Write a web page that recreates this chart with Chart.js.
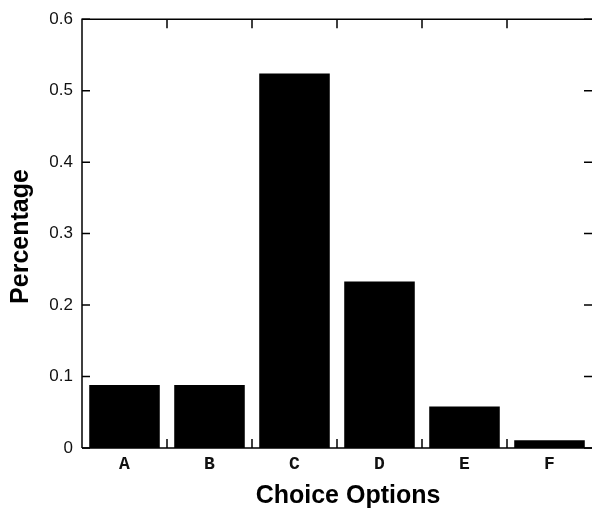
<!DOCTYPE html>
<html>
<head>
<meta charset="utf-8">
<script src="https://cdn.jsdelivr.net/npm/chart.js@4"></script>
<style>
  html, body { margin: 0; padding: 0; background: #fff; overflow: hidden; }
  #wrap { width: 592px; height: 509px; position: relative; }
</style>
</head>
<body>
<div id="wrap"><canvas id="chart"></canvas></div>
<script>
// 데이터
const categories = ['A', 'B', 'C', 'D', 'E', 'F'];
const percentages = [0.088, 0.088, 0.524, 0.233, 0.058, 0.011];
const yTickValues = [0, 0.1, 0.2, 0.3, 0.4, 0.5, 0.6];
const yTickLabels = ['0', '0.1', '0.2', '0.3', '0.4', '0.5', '0.6'];
const xTitle = 'Choice Options';
const yTitle = 'Percentage';

// 테두리, 안쪽 눈금, 축 제목
const framePlugin = {
    id: 'frame',
    afterDatasetsDraw(chart) {
        const { ctx, chartArea: a, scales } = chart;
        const x = scales.x, y = scales.y;
        ctx.save();
        ctx.strokeStyle = '#000';
        ctx.lineWidth = 1.5;

        ctx.beginPath();
        ctx.moveTo(a.left, a.bottom);
        ctx.lineTo(a.left, a.top);
        ctx.lineTo(a.right, a.top);
        ctx.moveTo(a.left, a.bottom);
        ctx.lineTo(a.right, a.bottom);
        ctx.stroke();

        // y 눈금 (좌/우)
        ctx.beginPath();
        yTickValues.forEach(v => {
            const py = y.getPixelForValue(v);
            ctx.moveTo(a.left, py);
            ctx.lineTo(a.left + 8, py);
            ctx.moveTo(a.right, py);
            ctx.lineTo(a.right - 8, py);
        });
        // 범주 경계 눈금 (위/아래)
        for (let i = 0; i < categories.length - 1; i++) {
            const px = (x.getPixelForValue(i) + x.getPixelForValue(i + 1)) / 2;
            ctx.moveTo(px, a.top);
            ctx.lineTo(px, a.top + 9);
            ctx.moveTo(px, a.bottom);
            ctx.lineTo(px, a.bottom - 9);
        }
        ctx.stroke();

        ctx.fillStyle = '#000';
        ctx.font = 'bold 25px "Liberation Sans", Arial, sans-serif';
        ctx.textAlign = 'center';
        ctx.textBaseline = 'alphabetic';
        ctx.fillText(xTitle, (a.left + a.right) / 2 + 11, 503);

        ctx.translate(28, 236.5);
        ctx.rotate(-Math.PI / 2);
        ctx.fillText(yTitle, 0, 0);
        ctx.restore();
    }
};

new Chart(document.getElementById('chart'), {
    type: 'bar',
    data: {
        labels: categories,
        datasets: [{
            data: percentages,
            backgroundColor: '#000',
            borderWidth: 0,
            barPercentage: 0.83,
            categoryPercentage: 1
        }]
    },
    options: {
        responsive: true,
        maintainAspectRatio: false,
        animation: false,
        layout: { padding: { top: 14, right: 0, left: 0, bottom: 0 } },
        plugins: {
            legend: { display: false },
            tooltip: { enabled: false }
        },
        scales: {
            x: {
                grid: { display: false, drawTicks: false },
                border: { display: false },
                ticks: {
                    color: '#111',
                    padding: 6,
                    font: { family: '"Liberation Mono", monospace', size: 18, weight: 'bold' }
                },
                afterFit(scale) { scale.height = 61; }
            },
            y: {
                min: 0,
                max: 0.6,
                grid: { display: false, drawTicks: false },
                border: { display: false },
                afterBuildTicks(scale) {
                    scale.ticks = yTickValues.map(v => ({ value: v }));
                },
                ticks: {
                    color: '#111',
                    padding: 9,
                    font: { family: '"Liberation Sans", Arial, sans-serif', size: 17 },
                    callback: (v, i) => yTickLabels[i]
                },
                afterFit(scale) { scale.width = 82; }
            }
        }
    },
    plugins: [framePlugin]
});
</script>
</body>
</html>
